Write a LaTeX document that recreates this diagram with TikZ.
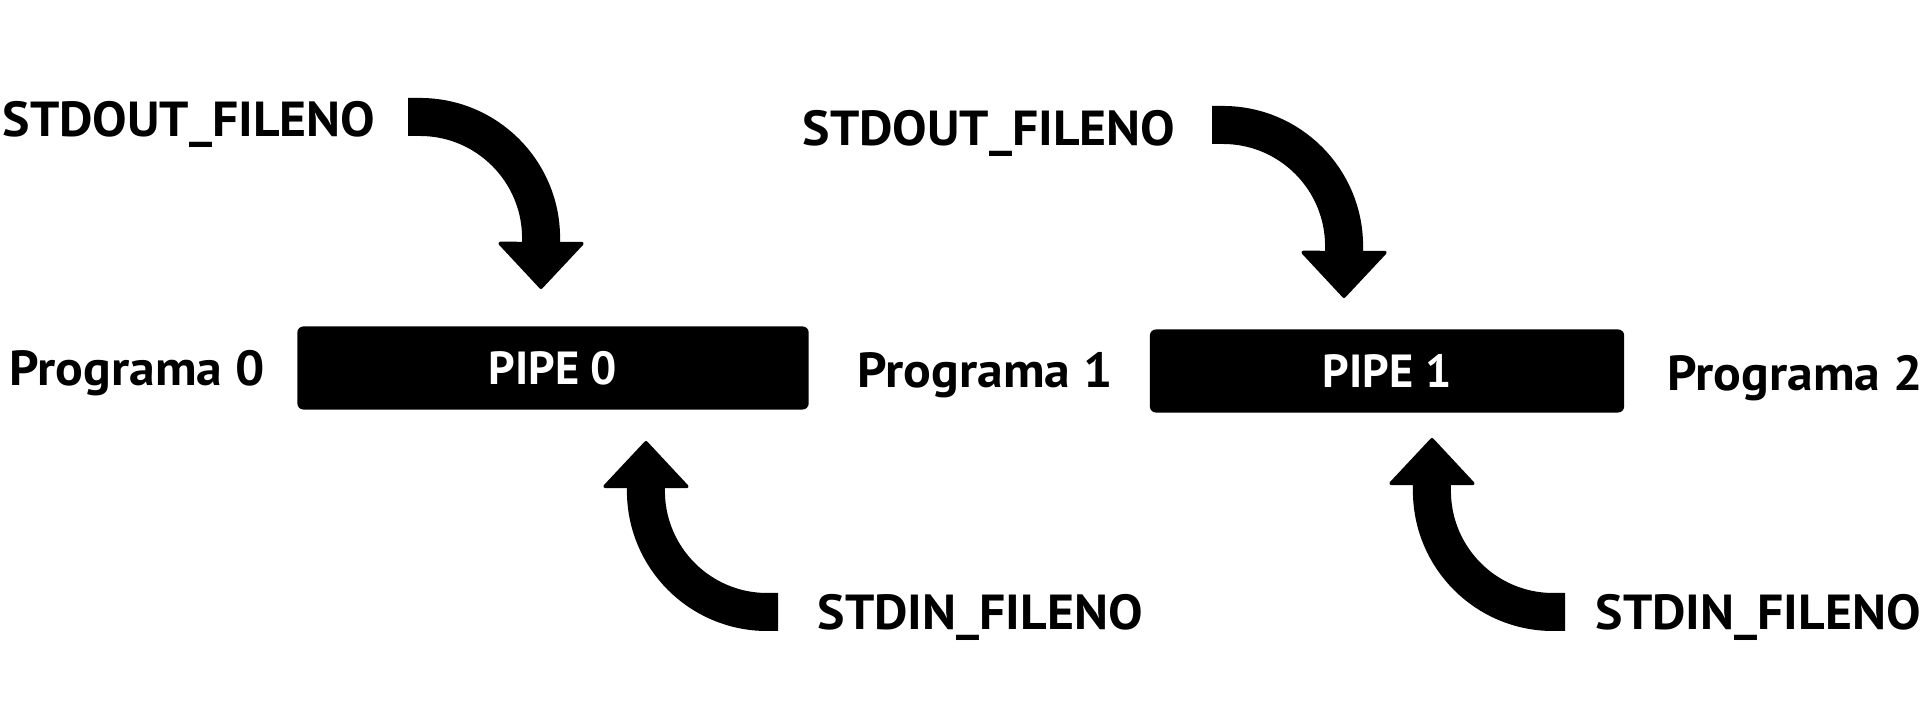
\documentclass[tikz,border=0pt]{standalone}
\usepackage{fontspec}
\setmainfont{PT Sans}
\newfontfamily\lblfont{PT Sans}[FakeStretch=1.05]
\usetikzlibrary{arrows.meta}
\begin{document}
\begin{tikzpicture}[x=0.01cm, y=0.01cm,
    lbl/.style={font=\lblfont\fontsize{14}{16}\selectfont\bfseries, inner sep=0pt},
    pipe/.style={font=\fontsize{13.2}{16}\selectfont\bfseries, inner sep=0pt, fill=black, text=white, rounded corners=0.06cm, minimum height=0.83cm},
    flow/.style={line width=0.38cm, -{Triangle[width=0.89cm, length=0.48cm, line width=1pt, round]}}]
        \useasboundingbox (0,0) rectangle (1920,716);

        \node[pipe, minimum width=5.11cm] (P0) at (553,348) {PIPE 0};
        \node[pipe, minimum width=4.74cm] (P1) at (1387,345) {PIPE 1};

        \node[lbl, anchor=base west] (Prog0) at (9,330) {Programa 0};
        \node[lbl, anchor=base west] (Prog1) at (857,328) {Programa 1};
        \node[lbl, anchor=base west] (Prog2) at (1667,325) {Programa 2};

        \node[lbl, anchor=base west] (Out0) at (2,579) {STDOUT\_FILENO};
        \node[lbl, anchor=base west] (Out1) at (802,570) {STDOUT\_FILENO};
        \node[lbl, anchor=base west] (In0) at (817,86) {STDIN\_FILENO};
        \node[lbl, anchor=base west] (In1) at (1595,86) {STDIN\_FILENO};

        % arrow ends
        \coordinate (O0) at (408,599);
        \coordinate (O0t) at (541,427);
        \coordinate (I0) at (778,104);
        \coordinate (I0t) at (646,275);
        \coordinate (O1) at (1212,591);
        \coordinate (O1t) at (1344,418);
        \coordinate (I1) at (1565,104);
        \coordinate (I1t) at (1432,278);

        \draw[flow] (O0) -- ++(12,0) arc[start angle=90, end angle=0, radius=1.21cm] -- (O0t);
        \draw[flow] (I0) -- ++(-11,0) arc[start angle=270, end angle=180, radius=1.21cm] -- (I0t);
        \draw[flow] (O1) -- ++(11,0) arc[start angle=90, end angle=0, radius=1.21cm] -- (O1t);
        \draw[flow] (I1) -- ++(-12,0) arc[start angle=270, end angle=180, radius=1.21cm] -- (I1t);
    \end{tikzpicture}
\end{document}
